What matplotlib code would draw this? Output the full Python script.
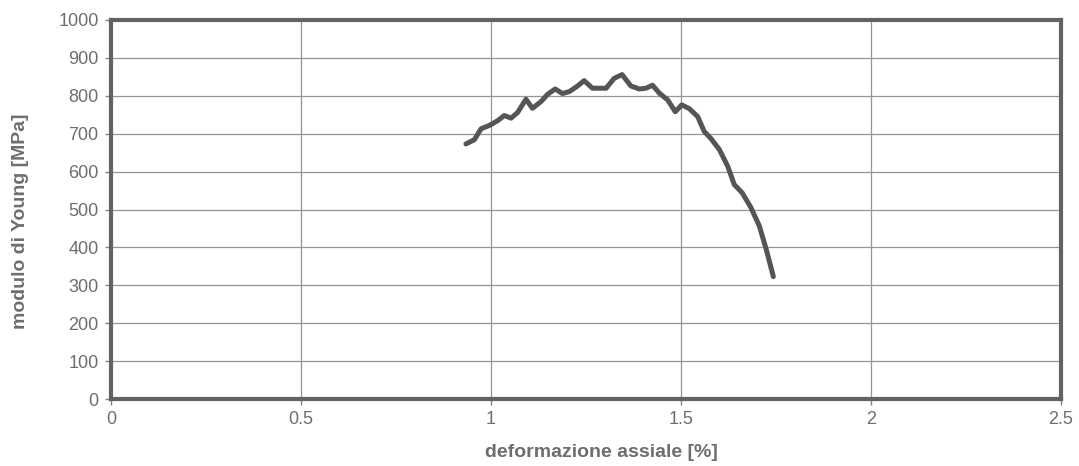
import matplotlib.pyplot as plt
import numpy as np

plt.rcParams['font.family'] = ['Liberation Sans', 'DejaVu Sans']

# values
strain = [0.934, 0.956, 0.974, 0.996, 1.017, 1.035, 1.053, 1.070, 1.092, 1.109,
          1.132, 1.149, 1.169, 1.188, 1.206, 1.228, 1.245, 1.267, 1.303, 1.324,
          1.345, 1.368, 1.390, 1.408, 1.425, 1.443, 1.465, 1.485, 1.502, 1.522,
          1.544, 1.561, 1.579, 1.601, 1.623, 1.640, 1.661, 1.684, 1.706, 1.724,
          1.743]
young = [673, 684, 713, 722, 734, 748, 741, 756, 791, 767,
         785, 804, 818, 806, 811, 826, 840, 820, 820, 846,
         856, 826, 818, 820, 828, 807, 789, 758, 776, 766,
         745, 706, 687, 658, 614, 566, 544, 505, 457, 396,
         323]

x_ticks = [0, 0.5, 1, 1.5, 2, 2.5]
x_tick_labels = ['0', '0.5', '1', '1.5', '2', '2.5']
y_ticks = list(range(0, 1001, 100))

text_col = '#6e6e6e'
frame_col = '#5f6266'

fig = plt.figure(figsize=(10.79, 4.66), dpi=100)
ax = fig.add_axes([111 / 1079, 1 - 399 / 466, (1061 - 111) / 1079, (399 - 20) / 466])

ax.plot(strain, young, color='#555555', linewidth=3.6, solid_joinstyle='round',
        solid_capstyle='round', zorder=3)

ax.set_xlim(0, 2.5)
ax.set_ylim(0, 1000)
ax.set_xticks(x_ticks)
ax.set_xticklabels(x_tick_labels)
ax.set_yticks(y_ticks)

ax.grid(True, color='#959595', linewidth=0.9)
ax.set_axisbelow(True)

for side in ['left', 'right', 'top', 'bottom']:
    ax.spines[side].set_color(frame_col)
    ax.spines[side].set_linewidth(3)

ax.tick_params(axis='both', colors='#808080', labelcolor=text_col, labelsize=13,
               length=4, width=1, pad=5)

ax.set_xlabel('deformazione assiale [%]', fontsize=14, fontweight='bold',
              color=text_col)
ax.set_ylabel('modulo di Young [MPa]', fontsize=14, fontweight='bold',
              color=text_col)
ax.xaxis.set_label_coords(0.516, -0.118)
ax.yaxis.set_label_coords(-0.086, 0.47)

plt.savefig('out.png', dpi=100)
